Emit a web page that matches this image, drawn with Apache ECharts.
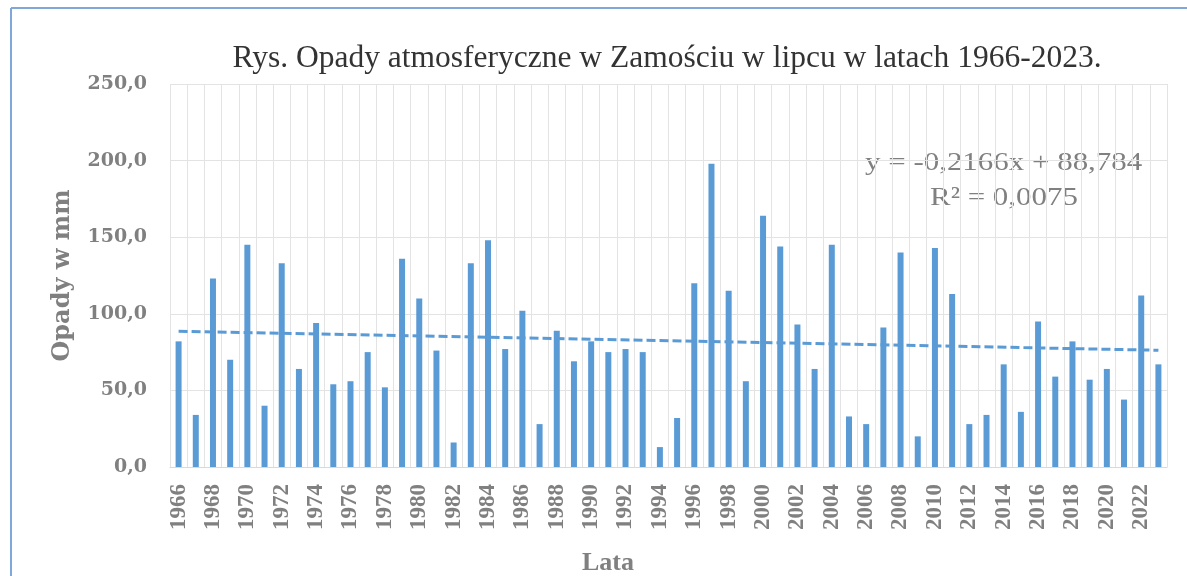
<!DOCTYPE html>
<html>
<head>
<meta charset="utf-8">
<script src="https://cdn.jsdelivr.net/npm/echarts@6/dist/echarts.min.js"></script>
<style>
html,body{margin:0;padding:0;background:#fff;}
#chart{width:1187px;height:576px;}
</style>
</head>
<body>
<div id="chart"></div>
<script>
const years = [];
for (let y = 1966; y <= 2023; y++) years.push(String(y));

const precipitation = [
  82, 34, 123, 70, 145, 40, 133, 64, 94, 54,
  56, 75, 52, 136, 110, 76, 16, 133, 148, 77,
  102, 28, 89, 69, 82, 75, 77, 75, 13, 32,
  120, 198, 115, 56, 164, 144, 93, 64, 145, 33,
  28, 91, 140, 20, 143, 113, 28, 34, 67, 36,
  95, 59, 82, 57, 64, 44, 112, 67
];

const yTicks = [0, 50, 100, 150, 200, 250];
const trendStart = 88.57;   // trend value at 1966
const trendEnd = 76.22;     // trend value at 2023
const equationText = 'y = -0,2166x + 88,784';
const r2Text = 'R² = 0,0075';
const titleText = 'Rys. Opady atmosferyczne w Zamościu w lipcu w latach 1966-2023.';

const serif = '"Liberation Serif", "Times New Roman", serif';
const wideSerif = '"DejaVu Serif", serif';
const gray = '#808080';
const blue = '#5b9bd5';

const chart = echarts.init(document.getElementById('chart'));
chart.setOption({
  animation: false,
  backgroundColor: '#ffffff',
  title: [
    {
      text: titleText,
      left: 662, top: 38, textAlign: 'center',
      textStyle: { fontFamily: serif, fontSize: 31.5, fontWeight: 'normal', color: '#333' }
    },
    {
      text: 'Lata',
      left: 603, top: 545, textAlign: 'center',
      textStyle: { fontFamily: serif, fontSize: 26, fontWeight: 'bold', color: gray }
    }
  ],
  graphic: [
    { type: 'line', shape: { x1: 11, y1: 8, x2: 11, y2: 576 }, style: { stroke: '#7fa8d8', lineWidth: 2 } },
    { type: 'line', shape: { x1: 11, y1: 8, x2: 1187, y2: 8 }, style: { stroke: '#7fa8d8', lineWidth: 2 } },
    { type: 'text', x: 865, y: 150, scaleX: 1.19, style: { text: equationText, font: '26px ' + serif, fill: gray, verticalAlign: 'top' } },
    { type: 'text', x: 930, y: 185, scaleX: 1.19, style: { text: r2Text, font: '26px ' + serif, fill: gray, verticalAlign: 'top' } }
  ],
  grid: { left: 170, right: 20, top: 84, bottom: 109, containLabel: false },
  xAxis: {
    type: 'category',
    data: years,
    boundaryGap: true,
    axisLine: { show: true, lineStyle: { color: '#d9d9d9', width: 1 } },
    axisTick: { show: false },
    axisLabel: {
      interval: 1, rotate: 90, margin: 17,
      fontFamily: serif, fontSize: 23, fontWeight: 'bold', color: gray
    },
    splitLine: { show: true, interval: 0, lineStyle: { color: '#e3e3e3', width: 1 } }
  },
  yAxis: {
    type: 'value',
    min: yTicks[0], max: yTicks[yTicks.length - 1], interval: 50,
    name: 'Opady w mm',
    nameLocation: 'middle',
    nameGap: 95,
    nameTextStyle: { fontFamily: wideSerif, fontSize: 24, fontWeight: 'bold', color: gray },
    axisLine: { show: false },
    axisTick: { show: false },
    axisLabel: {
      margin: 23,
      fontFamily: wideSerif, fontSize: 19, fontWeight: 'bold', color: gray,
      formatter: v => v.toFixed(1).replace('.', ',')
    },
    splitLine: { show: true, lineStyle: { color: '#e3e3e3', width: 1 } }
  },
  series: [
    {
      type: 'bar',
      data: precipitation,
      barWidth: 6,
      itemStyle: { color: blue },
      markLine: {
        symbol: 'none',
        silent: true,
        label: { show: false },
        lineStyle: { color: blue, width: 3, type: [9, 4] },
        data: [[
          { coord: [years[0], trendStart] },
          { coord: [years[years.length - 1], trendEnd] }
        ]]
      }
    }
  ]
});
</script>
</body>
</html>
